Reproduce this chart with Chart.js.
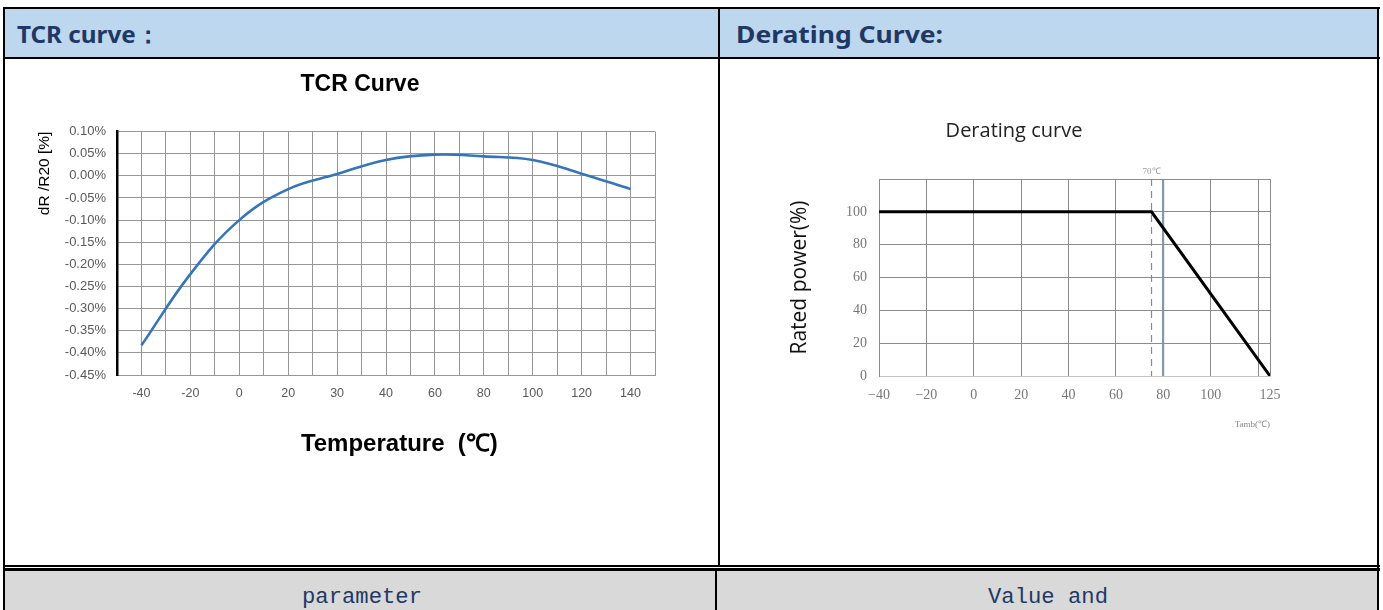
<!DOCTYPE html>
<html><head><meta charset="utf-8">
<script src="https://cdn.jsdelivr.net/npm/chart.js@4.4.1/dist/chart.umd.min.js"></script>
<style>
html,body{margin:0;padding:0;background:#fff;width:1383px;height:610px;overflow:hidden;position:relative;}
.abs{position:absolute;}
.blk{position:absolute;background:#000;}
.hdr{position:absolute;font-family:"Noto Sans",sans-serif;font-weight:bold;font-size:24px;line-height:33px;color:#1f3864;white-space:nowrap;transform-origin:0 50%;}
.mono{position:absolute;font-family:"Liberation Mono",monospace;font-size:22px;line-height:26px;color:#1f3864;white-space:nowrap;transform-origin:0 50%;}
canvas{position:absolute;}
</style></head><body>
<div class="abs" style="left:4px;top:9px;width:1374px;height:49px;background:#bdd7ee"></div>
<div class="abs" style="left:4px;top:569px;width:1374px;height:41px;background:#d9d9d9"></div>
<div class="blk" style="left:3px;top:7px;width:1377px;height:2px"></div>
<div class="blk" style="left:3px;top:57px;width:1377px;height:2px"></div>
<div class="blk" style="left:3px;top:565px;width:1377px;height:2px"></div>
<div class="blk" style="left:3px;top:568px;width:1377px;height:3px"></div>
<div class="blk" style="left:3px;top:7px;width:2px;height:603px"></div>
<div class="blk" style="left:1377px;top:7px;width:2px;height:603px"></div>
<div class="blk" style="left:718px;top:7px;width:2px;height:560px"></div>
<div class="blk" style="left:715px;top:568px;width:2px;height:42px"></div>

<div class="hdr" id="h1" style="left:17px;top:17px">TCR curve：</div>
<div class="hdr" id="h2" style="left:736px;top:17px">Derating Curve:</div>
<div class="mono" id="m1" style="top:585px">parameter</div>
<div class="mono" id="m2" style="top:585px">Value and</div>

<canvas id="c1" width="680" height="410" style="left:20px;top:62px"></canvas>
<canvas id="c2" width="578" height="410" style="left:725px;top:62px"></canvas>

<script>
// ---- TCR data ----
const tcrCategories = ['-40','-20','0','20','30','40','60','80','100','120','140'];
const tcrValues = [-0.383, -0.222, -0.100, -0.030, 0.004, 0.036, 0.048, 0.044, 0.036, 0.005, -0.030];
const tcrYMin = -0.45, tcrYMax = 0.10, tcrYStep = 0.05;

// ---- Derating data ----
const derateX = [-40, 75, 125];
const derateY = [100, 100, 0];
const derateTicks = [-40, -20, 0, 20, 40, 60, 80, 100, 120, 125];
const derateTickLabels = ['\u221240', '\u221220', '0', '20', '40', '60', '80', '100', '', '125'];
const derateYTicks = [0, 20, 40, 60, 80, 100, 120];
const derateYTickLabels = ['0', '20', '40', '60', '80', '100', ''];
const kneeLabel = '70\u2103';

function fitText(id, target, left, center){
  const el = document.getElementById(id);
  const w = el.getBoundingClientRect().width;
  const s = target / w;
  el.style.transform = 'scaleX(' + s + ')';
  if (center !== undefined) el.style.left = (center - target/2) + 'px';
}
fitText('h1', 143);
fitText('h2', 207);
fitText('m1', 120, null, 362);
fitText('m2', 120, null, 1048);

Chart.defaults.font.family = '"Liberation Sans", Arial, sans-serif';

const spacer = (w) => ({
  axis: 'y', position: 'right', display: true,
  grid: {display: false, drawTicks: false}, ticks: {display: false},
  border: {display: false},
  afterFit: (s) => { s.width = w; }
});

new Chart(document.getElementById('c1'), {
  type: 'line',
  data: {
    datasets: [{
      data: tcrValues.map((v, i) => ({x: i, y: v})),
      borderColor: '#3476b8',
      borderWidth: 2.6,
      pointRadius: 0,
      tension: 0.4,
      fill: false
    }]
  },
  options: {
    responsive: false,
    animation: false,
    layout: {padding: 0},
    plugins: {
      legend: {display: false},
      tooltip: {enabled: false},
      title: {
        display: true, text: 'TCR Curve', color: '#000',
        font: {size: 23, weight: 'bold', family: '"Liberation Sans", Arial, sans-serif'},
        padding: {top: 9, bottom: 33}
      }
    },
    scales: {
      x: {
        type: 'linear',
        min: -0.5, max: tcrCategories.length - 0.5,
        afterBuildTicks: (s) => {
          const t = [];
          for (let v = -0.5; v <= tcrCategories.length - 0.5 + 1e-9; v += 0.5) t.push({value: v});
          s.ticks = t;
        },
        afterFit: (s) => { s.height = 97; },
        ticks: {
          autoSkip: false, maxRotation: 0, padding: 11,
          color: '#595959', font: {size: 12.5},
          callback: (v) => Number.isInteger(v) ? tcrCategories[v] : ''
        },
        grid: {color: '#969696', lineWidth: 1, drawTicks: false},
        border: {color: '#969696', width: 1},
        title: {
          display: true, text: '\u00a0\u00a0\u00a0\u00a0Temperature  (\u2103)', color: '#000',
          font: {size: 24, weight: 'bold'},
          padding: {top: 0, bottom: 13}
        }
      },
      y: {
        min: tcrYMin, max: tcrYMax,
        afterFit: (s) => { s.width = 97; },
        ticks: {
          stepSize: tcrYStep, padding: 11, color: '#595959', font: {size: 13},
          callback: (v) => (Math.abs(v) < 1e-9 ? 0 : v).toFixed(2) + '%'
        },
        grid: {color: '#969696', lineWidth: 1, drawTicks: false},
        border: {color: '#000', width: 2.5},
        title: {
          display: true, text: 'dR /R20 [%]', color: '#000', align: 'end',
          font: {size: 15.5},
          padding: {top: 15, bottom: 0}
        }
      },
      yRight: spacer(45)
    }
  }
});

const kneePlugin = {
  id: 'knee',
  beforeDatasetsDraw(chart) {
    const {ctx, chartArea, scales} = chart;
    const x = scales.x.getPixelForValue(derateX[1]);
    ctx.save();
    ctx.strokeStyle = '#8a8a8a';
    ctx.lineWidth = 1.2;
    ctx.setLineDash([7, 5]);
    ctx.beginPath();
    ctx.moveTo(x, chartArea.top);
    ctx.lineTo(x, chartArea.bottom);
    ctx.stroke();
    ctx.setLineDash([]);
    ctx.fillStyle = '#999';
    ctx.font = '9px "Liberation Serif", serif';
    ctx.textAlign = 'center';
    ctx.textBaseline = 'bottom';
    ctx.fillText(kneeLabel, x, chartArea.top - 3);
    ctx.restore();
  }
};

new Chart(document.getElementById('c2'), {
  type: 'line',
  data: {
    datasets: [{
      data: derateX.map((x, i) => ({x: x, y: derateY[i]})),
      borderColor: '#000',
      borderWidth: 3,
      pointRadius: 0,
      tension: 0,
      fill: false
    }]
  },
  plugins: [kneePlugin],
  options: {
    responsive: false,
    animation: false,
    layout: {padding: 0},
    plugins: {
      legend: {display: false},
      tooltip: {enabled: false},
      title: {
        display: true, text: 'Derating curve', color: '#222',
        font: {size: 20, weight: 'normal', family: '"Open Sans", "Noto Sans", sans-serif'},
        padding: {top: 57, bottom: 36}
      }
    },
    scales: {
      x: {
        type: 'linear',
        min: derateTicks[0], max: derateTicks[derateTicks.length - 1],
        afterBuildTicks: (s) => { s.ticks = derateTicks.map(v => ({value: v})); },
        afterFit: (s) => { s.height = 96; },
        ticks: {
          autoSkip: false, maxRotation: 0, padding: 11,
          color: '#777', font: {size: 14, family: '"Liberation Serif", serif'},
          callback: (v, i) => derateTickLabels[i]
        },
        grid: {
          color: (c) => c.tick && c.tick.value === 80 ? '#8797aa' : '#8c8c8c',
          lineWidth: (c) => c.tick && c.tick.value === 80 ? 2.2 : 1,
          drawTicks: false
        },
        border: {color: '#c4c4c4', width: 1},
        title: {
          display: true, text: 'Tamb(\u2103)', color: '#888', align: 'end',
          font: {size: 9, family: '"Liberation Serif", serif'},
          padding: {top: 0, bottom: 42}
        }
      },
      y: {
        min: 0, max: 120,
        afterFit: (s) => { s.width = 154; },
        afterBuildTicks: (s) => { s.ticks = derateYTicks.map(v => ({value: v})); },
        ticks: {
          padding: 12, color: '#777', font: {size: 14, family: '"Liberation Serif", serif'},
          callback: (v, i) => derateYTickLabels[i]
        },
        grid: {color: '#8c8c8c', lineWidth: 1, drawTicks: false},
        border: {color: '#8c8c8c', width: 1},
        title: {
          display: true, text: 'Rated power(%)', color: '#111',
          font: {size: 21, family: '"Open Sans", "Noto Sans", sans-serif'},
          padding: {top: 62, bottom: 0}
        }
      },
      yRight: spacer(33)
    }
  }
});
</script>
</body></html>
